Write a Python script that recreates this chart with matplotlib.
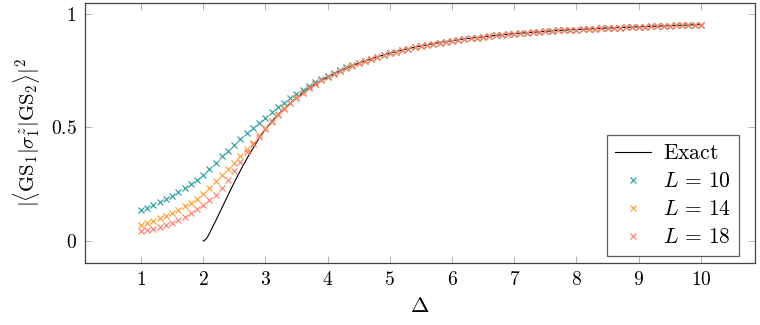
import numpy as np
import matplotlib
matplotlib.use("Agg")
import matplotlib.pyplot as plt

plt.rcParams['mathtext.fontset'] = 'cm'
plt.rcParams['font.family'] = ['DejaVu Serif']

# Exact curve
delta_exact = [2.0, 2.025, 2.05, 2.075] + [round(2.1 + 0.1 * i, 1) for i in range(80)]
exact = [0.000, 0.003, 0.010, 0.020,
         0.033, 0.088, 0.145, 0.202, 0.258, 0.311, 0.361, 0.408, 0.453,
         0.492, 0.525, 0.555, 0.582, 0.607, 0.630, 0.652, 0.672, 0.690, 0.707,
         0.722, 0.736, 0.749, 0.761, 0.772, 0.783, 0.793, 0.802, 0.811, 0.819,
         0.827, 0.834, 0.841, 0.847, 0.853, 0.859, 0.864, 0.869, 0.874, 0.878,
         0.882, 0.886, 0.890, 0.893, 0.896, 0.899, 0.902, 0.905, 0.908, 0.910,
         0.913, 0.915, 0.917, 0.919, 0.921, 0.923, 0.925, 0.927, 0.928, 0.930,
         0.931, 0.933, 0.934, 0.935, 0.937, 0.938, 0.939, 0.940, 0.941, 0.942,
         0.943, 0.944, 0.945, 0.946, 0.947, 0.948, 0.949, 0.950, 0.951, 0.952,
         0.953]

# Finite-size data, Delta = 1.0 ... 10.0 step 0.1
delta_L = [round(1.0 + 0.1 * i, 1) for i in range(91)]
L10 = [0.135, 0.147, 0.159, 0.172, 0.186, 0.200, 0.216, 0.233, 0.251, 0.270,
       0.291, 0.317, 0.345, 0.372, 0.398, 0.424, 0.449, 0.474, 0.497, 0.520,
       0.543, 0.566, 0.588, 0.609, 0.629, 0.648, 0.666, 0.683, 0.699, 0.714,
       0.728, 0.741, 0.753, 0.764, 0.775, 0.785, 0.794, 0.803, 0.811, 0.819,
       0.827, 0.834, 0.841, 0.847, 0.853, 0.859, 0.864, 0.869, 0.874, 0.878,
       0.882, 0.886, 0.890, 0.893, 0.896, 0.899, 0.902, 0.905, 0.908, 0.910,
       0.913, 0.915, 0.917, 0.919, 0.921, 0.923, 0.925, 0.927, 0.928, 0.930,
       0.931, 0.933, 0.934, 0.935, 0.937, 0.938, 0.939, 0.940, 0.941, 0.942,
       0.943, 0.944, 0.945, 0.946, 0.947, 0.948, 0.949, 0.950, 0.951, 0.952,
       0.953]
L14 = [0.072, 0.080, 0.090, 0.100, 0.112, 0.124, 0.138, 0.153, 0.169, 0.186,
       0.205, 0.232, 0.262, 0.290, 0.316, 0.345, 0.374, 0.403, 0.432, 0.465,
       0.498, 0.528, 0.558, 0.585, 0.609, 0.632, 0.653, 0.673, 0.691, 0.708,
       0.723, 0.737, 0.750, 0.762, 0.773, 0.784, 0.794, 0.803, 0.811, 0.819,
       0.827, 0.834, 0.841, 0.847, 0.853, 0.859, 0.864, 0.869, 0.874, 0.878,
       0.882, 0.886, 0.890, 0.893, 0.896, 0.899, 0.902, 0.905, 0.908, 0.910,
       0.913, 0.915, 0.917, 0.919, 0.921, 0.923, 0.925, 0.927, 0.928, 0.930,
       0.931, 0.933, 0.934, 0.935, 0.937, 0.938, 0.939, 0.940, 0.941, 0.942,
       0.943, 0.944, 0.945, 0.946, 0.947, 0.948, 0.949, 0.950, 0.951, 0.952,
       0.953]
L18 = [0.042, 0.048, 0.054, 0.062, 0.070, 0.080, 0.092, 0.106, 0.122, 0.140,
       0.160, 0.180, 0.203, 0.235, 0.269, 0.308, 0.349, 0.390, 0.426, 0.460,
       0.495, 0.526, 0.556, 0.583, 0.608, 0.631, 0.652, 0.672, 0.690, 0.707,
       0.722, 0.736, 0.749, 0.761, 0.772, 0.783, 0.793, 0.802, 0.811, 0.819,
       0.827, 0.834, 0.841, 0.847, 0.853, 0.859, 0.864, 0.869, 0.874, 0.878,
       0.882, 0.886, 0.890, 0.893, 0.896, 0.899, 0.902, 0.905, 0.908, 0.910,
       0.913, 0.915, 0.917, 0.919, 0.921, 0.923, 0.925, 0.927, 0.928, 0.930,
       0.931, 0.933, 0.934, 0.935, 0.937, 0.938, 0.939, 0.940, 0.941, 0.942,
       0.943, 0.944, 0.945, 0.946, 0.947, 0.948, 0.949, 0.950, 0.951, 0.952,
       0.953]

xticks = [1, 2, 3, 4, 5, 6, 7, 8, 9, 10]
yticks = [0, 0.5, 1]
ytick_labels = ['$0$', '$0.5$', '$1$']

fig = plt.figure(figsize=(7.6, 3.25), dpi=100)
ax = fig.add_axes([0.1118, 0.1908, 0.9934 - 0.1118, 0.9908 - 0.1908])

ax.plot(delta_exact, exact, color='black', lw=0.8, label=r'$\mathrm{Exact}$', zorder=2)
ax.plot(delta_L, L10, ls='none', marker='x', ms=5, mew=0.8, color='#1f9a9a', label=r'$L\,=\,10$', zorder=3)
ax.plot(delta_L, L14, ls='none', marker='x', ms=5, mew=0.8, color='#ff9a26', label=r'$L\,=\,14$', zorder=4)
ax.plot(delta_L, L18, ls='none', marker='x', ms=5, mew=0.8, color='#ff7a70', label=r'$L\,=\,18$', zorder=5)

ax.set_xlim(0.1, 10.87)
ax.set_ylim(-0.097, 1.048)
ax.set_xticks(xticks)
ax.set_xticklabels(['$%d$' % t for t in xticks], fontsize=14)
ax.set_yticks(yticks)
ax.set_yticklabels(ytick_labels, fontsize=14)
ax.tick_params(direction='in', length=5, width=0.6, color='#aaaaaa', top=True, right=True, pad=6)
for s in ax.spines.values():
    s.set_color('#444444')
    s.set_linewidth(0.9)

ax.set_xlabel(r'$\Delta$', fontsize=16, labelpad=4)
ax.set_ylabel(r'$|\langle \mathrm{GS}_1|\sigma_1^z|\mathrm{GS}_2\rangle|^2$', fontsize=15, labelpad=6)

leg = ax.legend(loc='lower right', fontsize=15.5, frameon=True, fancybox=False,
                edgecolor='#333333', handlelength=1.7, handletextpad=0.55,
                borderpad=0.35, labelspacing=0.28, markerscale=0.8,
                borderaxespad=0.0,
                bbox_to_anchor=(0.976, 0.027))
leg.get_frame().set_linewidth(0.9)

fig.savefig('out.png', dpi=100)
